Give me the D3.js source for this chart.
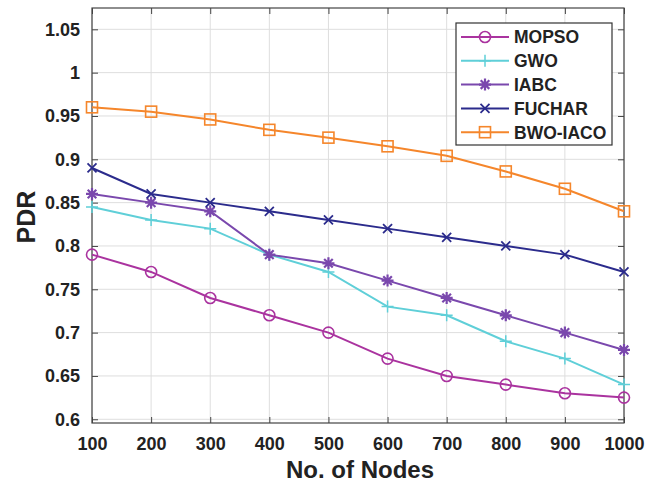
<!DOCTYPE html>
<html><head><meta charset="utf-8">
<script src="https://cdn.jsdelivr.net/npm/d3@7"></script>
<style>body{margin:0;background:#fff;}svg{display:block;}text{font-family:"Liberation Sans",Arial,sans-serif;font-weight:bold;fill:#222;}</style>
</head><body><svg id="c" width="646" height="489"></svg>
<script>
const nodes = [100,200,300,400,500,600,700,800,900,1000];
const seriesNames = ["MOPSO","GWO","IABC","FUCHAR","BWO-IACO"];
const mopso = [0.79,0.77,0.74,0.72,0.70,0.67,0.65,0.64,0.63,0.625];
const gwo = [0.845,0.83,0.82,0.79,0.77,0.73,0.72,0.69,0.67,0.64];
const iabc = [0.86,0.85,0.84,0.79,0.78,0.76,0.74,0.72,0.70,0.68];
const fuchar = [0.89,0.86,0.85,0.84,0.83,0.82,0.81,0.80,0.79,0.77];
const bwoiaco = [0.96,0.955,0.946,0.934,0.925,0.915,0.904,0.886,0.866,0.84];
const yTicks = [0.6,0.65,0.7,0.75,0.8,0.85,0.9,0.95,1,1.05];
const yTickLabels = ["0.6","0.65","0.7","0.75","0.8","0.85","0.9","0.95","1","1.05"];
const xTickLabels = ["100","200","300","400","500","600","700","800","900","1000"];

const colors = ["#aa339f","#5fcfd8","#7a48ad","#2b2b8c","#f5862b"];
const markers = ["circle","plus","asterisk","cross","square"];
const data = [mopso,gwo,iabc,fuchar,bwoiaco];

const svg = d3.select("#c");
const L=92,R=624,T=8,B=423;
const x = d3.scaleLinear().domain([100,1000]).range([L,R]);
const y = d3.scaleLinear().domain([0.5957,1.0746]).range([B,T]);

const g = svg.append("g");
g.selectAll(".gx").data(nodes).join("line").attr("x1",d=>x(d)).attr("x2",d=>x(d)).attr("y1",T).attr("y2",B).attr("stroke","#dedede").attr("stroke-width",1);
g.selectAll(".gy").data(yTicks).join("line").attr("y1",d=>y(d)).attr("y2",d=>y(d)).attr("x1",L).attr("x2",R).attr("stroke","#dedede").attr("stroke-width",1);

const ax = d3.axisBottom(x).tickValues(nodes).tickFormat((d,i)=>xTickLabels[i]).tickSizeInner(-6).tickSizeOuter(0).tickPadding(14);
const ay = d3.axisLeft(y).tickValues(yTicks).tickFormat((d,i)=>yTickLabels[i]).tickSizeInner(-6).tickSizeOuter(0).tickPadding(12);
const axTop = d3.axisTop(x).tickValues(nodes).tickFormat("").tickSizeInner(-6).tickSizeOuter(0);
const ayR = d3.axisRight(y).tickValues(yTicks).tickFormat("").tickSizeInner(-6).tickSizeOuter(0);
function styleAxis(sel){sel.select(".domain").remove();sel.selectAll("line").attr("stroke","#444");sel.selectAll("text").attr("font-size","18px").attr("fill","#222").attr("font-family","'Liberation Sans',Arial,sans-serif").attr("font-weight","bold");}
svg.append("g").attr("transform",`translate(0,${B})`).call(ax).call(styleAxis);
svg.append("g").attr("transform",`translate(${L},0)`).call(ay).call(styleAxis);
svg.append("g").attr("transform",`translate(0,${T})`).call(axTop).call(styleAxis);
svg.append("g").attr("transform",`translate(${R},0)`).call(ayR).call(styleAxis);
svg.append("rect").attr("x",L).attr("y",T).attr("width",R-L).attr("height",B-T).attr("fill","none").attr("stroke","#444").attr("stroke-width",1.2);

function drawMarker(sel,type,color){
  if(type==="circle") sel.append("circle").attr("r",5.5).attr("fill","none").attr("stroke",color).attr("stroke-width",1.6);
  else if(type==="square") sel.append("rect").attr("x",-5.5).attr("y",-5.5).attr("width",11).attr("height",11).attr("fill","none").attr("stroke",color).attr("stroke-width",1.6);
  else if(type==="plus") sel.append("path").attr("d","M-6,0H6M0,-6V6").attr("stroke",color).attr("stroke-width",1.5);
  else if(type==="cross") sel.append("path").attr("d","M-4.5,-4.5L4.5,4.5M-4.5,4.5L4.5,-4.5").attr("stroke",color).attr("stroke-width",1.8);
  else if(type==="asterisk") sel.append("path").attr("d","M-6,0H6M0,-6V6M-4.3,-4.3L4.3,4.3M-4.3,4.3L4.3,-4.3").attr("stroke",color).attr("stroke-width",2.2);
}

const line = d3.line().x((d,i)=>x(nodes[i])).y(d=>y(d));
data.forEach((vals,k)=>{
  svg.append("path").datum(vals).attr("d",line).attr("fill","none").attr("stroke",colors[k]).attr("stroke-width",2);
  svg.selectAll(null).data(vals).join("g").attr("transform",(d,i)=>`translate(${x(nodes[i])},${y(d)})`).each(function(){drawMarker(d3.select(this),markers[k],colors[k]);});
});

const lg = svg.append("g");
lg.append("rect").attr("x",456).attr("y",23).attr("width",156).attr("height",122).attr("fill","#fff").attr("stroke","#333").attr("stroke-width",1.2);
seriesNames.forEach((n,k)=>{
  const yy = 37 + k*23.8;
  lg.append("line").attr("x1",461).attr("x2",509).attr("y1",yy).attr("y2",yy).attr("stroke",colors[k]).attr("stroke-width",2);
  const m = lg.append("g").attr("transform",`translate(485,${yy})`);
  drawMarker(m,markers[k],colors[k]);
  lg.append("text").attr("x",514).attr("y",yy).attr("dy","0.36em").attr("font-size","17.5px").text(n);
});

svg.append("text").attr("x",360).attr("y",478).attr("text-anchor","middle").attr("font-size","24px").text("No. of Nodes");
svg.append("text").attr("transform","translate(35,217) rotate(-90)").attr("text-anchor","middle").attr("font-size","25px").text("PDR");
</script></body></html>
